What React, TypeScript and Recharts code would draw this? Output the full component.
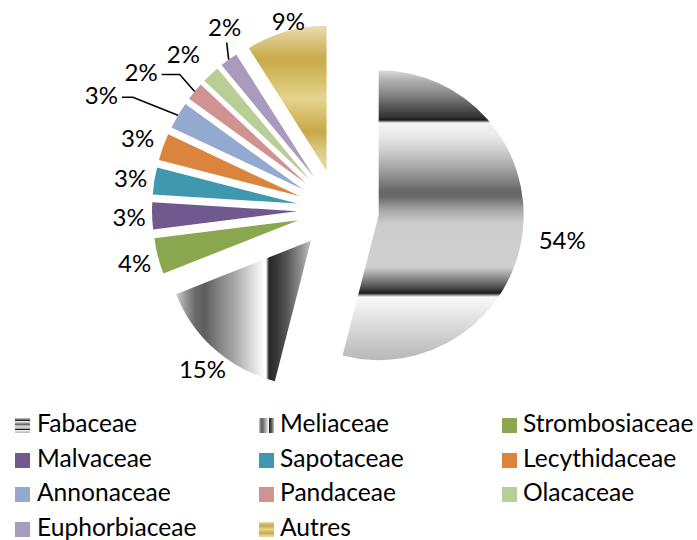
import React from 'react';
import { PieChart, Pie, Cell } from 'recharts';

// Share of stems per botanical family (percent)
const families = [
  'Fabaceae',
  'Meliaceae',
  'Strombosiaceae',
  'Malvaceae',
  'Sapotaceae',
  'Lecythidaceae',
  'Annonaceae',
  'Pandaceae',
  'Olacaceae',
  'Euphorbiaceae',
  'Autres',
];
const shares = [54, 15, 4, 3, 3, 3, 3, 2, 2, 2, 9];

const sliceFills = [
  'url(#fabaceaeFill)',
  'url(#meliaceaeFill)',
  '#8aa64f',
  '#71588f',
  '#4098af',
  '#db843d',
  '#93a9cf',
  '#d19392',
  '#b9cd96',
  '#a99bbd',
  'url(#autresFill)',
];

// Legend grid order (three columns)
const legendColumns = 3;

const WIDTH = 697;
const HEIGHT = 540;
const CENTER_X = 338;
const CENTER_Y = 210;
const RADIUS = 145;
const EXPLODE = 41;
const RAD = Math.PI / 180;
const FONT = 'Lato, "Liberation Sans", sans-serif';
const FONT_SIZE = 24;
const LEGEND_FONT_SIZE = 24.6;

// Distance of each percentage label beyond the arc, plus a small nudge
const labelGap = [40, 22, 24, 23, 24, 27, 0, 0, 34, 0, 10];
const labelNudge: [number, number][] = [
  [0, 1],
  [2, 2],
  [0, 0],
  [0, 0],
  [0, 0],
  [0, 0],
  [0, 0],
  [0, 0],
  [-4, 4],
  [0, 0],
  [5, -1],
];
// Leader lines, as successive segments starting on the arc
const leaders: Record<number, [number, number][]> = {
  6: [
    [-45, -18],
    [-11, 0],
  ],
  7: [
    [-15, -17],
    [-18, 0],
  ],
  9: [[-2, -17]],
};

const total = shares.reduce((a, b) => a + b, 0);
// Mid angle of each slice, clockwise from 12 o'clock
const midAngles = shares.map((v, i) => {
  const before = shares.slice(0, i).reduce((a, b) => a + b, 0);
  return ((before + v / 2) / total) * 360;
});

const data = families.map((name, i) => ({ name, value: shares[i] }));

const fabStops: [number, string][] = [
  [0, '#dcdcdc'],
  [0.035, '#b0b0b0'],
  [0.08, '#8a8a8a'],
  [0.128, '#555555'],
  [0.162, '#333333'],
  [0.172, '#1a1a1a'],
  [0.182, '#f5f5f5'],
  [0.231, '#e8e8e8'],
  [0.286, '#c8c8c8'],
  [0.345, '#a0a0a0'],
  [0.414, '#686868'],
  [0.438, '#6a6a6a'],
  [0.483, '#a8a8a8'],
  [0.528, '#cccccc'],
  [0.679, '#d0d0d0'],
  [0.714, '#909090'],
  [0.748, '#505050'],
  [0.769, '#1a1a1a'],
  [0.782, '#fafafa'],
  [0.838, '#e8e8e8'],
  [0.941, '#c8c8c8'],
  [1, '#b8b8b8'],
];

const meliStops: [number, string][] = [
  [0, '#d0d0d0'],
  [0.067, '#9a9a9a'],
  [0.141, '#6a6a6a'],
  [0.215, '#5e5e5e'],
  [0.311, '#808080'],
  [0.437, '#a8a8a8'],
  [0.556, '#d8d8d8'],
  [0.644, '#fafafa'],
  [0.667, '#ffffff'],
  [0.689, '#262626'],
  [0.733, '#333333'],
  [0.83, '#5a5a5a'],
  [0.926, '#909090'],
  [1, '#c0c0c0'],
];

const autresStops: [number, string][] = [
  [0, '#e8ddb4'],
  [0.116, '#d8c27a'],
  [0.226, '#c8ab4c'],
  [0.295, '#cdb257'],
  [0.39, '#d8c26e'],
  [0.5, '#e6d48e'],
  [0.616, '#d6be6a'],
  [0.733, '#c6a946'],
  [0.842, '#d8c47c'],
  [0.938, '#e4d596'],
  [1, '#e6d89a'],
];

const Gradient = ({
  id,
  stops,
  horizontal,
}: {
  id: string;
  stops: [number, string][];
  horizontal?: boolean;
}) => (
  <linearGradient id={id} x1="0" y1="0" x2={horizontal ? '1' : '0'} y2={horizontal ? '0' : '1'}>
    {stops.map(([o, c]) => (
      <stop key={o} offset={o} stopColor={c} />
    ))}
  </linearGradient>
);

const makeLabel = (k: number) => (props: any) => {
  if (props.index !== k) return null;
  const { cx, cy, midAngle, outerRadius } = props;
  const ux = Math.cos(-midAngle * RAD);
  const uy = Math.sin(-midAngle * RAD);
  const text = `${shares[k]}%`;
  const textProps = {
    fontFamily: FONT,
    fontSize: FONT_SIZE,
    fill: '#000',
    dominantBaseline: 'central' as const,
  };
  const leader = leaders[k];
  if (leader) {
    let x = cx + outerRadius * ux;
    let y = cy + outerRadius * uy;
    const pts: [number, number][] = [[x, y]];
    leader.forEach(([dx, dy]) => {
      x += dx;
      y += dy;
      pts.push([x, y]);
    });
    const last = leader[leader.length - 1];
    const horizontal = last[1] === 0;
    return (
      <g>
        <polyline
          points={pts.map((p) => p.join(',')).join(' ')}
          fill="none"
          stroke="#000"
          strokeWidth={1.6}
        />
        <text
          {...textProps}
          x={horizontal ? x - 4 : x - 2}
          y={horizontal ? y - 3 : y - 16}
          textAnchor={horizontal ? 'end' : 'middle'}
        >
          {text}
        </text>
      </g>
    );
  }
  const r = outerRadius + labelGap[k];
  return (
    <text
      {...textProps}
      x={cx + r * ux + labelNudge[k][0]}
      y={cy + r * uy + labelNudge[k][1]}
      textAnchor="middle"
    >
      {text}
    </text>
  );
};

const legendColX = [15, 259, 502];
const legendTextX = [37, 280, 523];
const legendRowTop = [408, 442.5, 477, 511.5];

const Legend = () => (
  <>
    {families.map((name, i) => {
      const col = i % legendColumns;
      const row = Math.floor(i / legendColumns);
      return (
        <div
          key={name}
          style={{
            position: 'absolute',
            left: legendColX[col],
            top: legendRowTop[row],
            height: 30,
            whiteSpace: 'nowrap',
          }}
        >
          <svg
            width={15}
            height={15}
            style={{ position: 'absolute', left: 0, top: 10 }}
          >
            <rect x={0} y={0} width={15} height={15} fill={sliceFills[i]} />
          </svg>
          <span
            style={{
              position: 'absolute',
              left: legendTextX[col] - legendColX[col],
              top: 0,
              lineHeight: '30px',
              fontFamily: FONT,
              fontSize: LEGEND_FONT_SIZE,
              color: '#000',
            }}
          >
            {name}
          </span>
        </div>
      );
    })}
  </>
);

export default function App() {
  return (
    <div
      style={{
        position: 'absolute',
        left: 0,
        top: 0,
        width: WIDTH,
        height: HEIGHT,
        background: '#fff',
        overflow: 'hidden',
      }}
    >
      <PieChart width={WIDTH} height={HEIGHT} margin={{ top: 0, right: 0, bottom: 0, left: 0 }}>
        <defs>
          <Gradient id="fabaceaeFill" stops={fabStops} />
          <Gradient id="meliaceaeFill" stops={meliStops} horizontal />
          <Gradient id="autresFill" stops={autresStops} />
        </defs>
        {families.map((name, k) => (
          <Pie
            key={name}
            data={data}
            dataKey="value"
            nameKey="name"
            cx={CENTER_X + EXPLODE * Math.sin(midAngles[k] * RAD)}
            cy={CENTER_Y - EXPLODE * Math.cos(midAngles[k] * RAD)}
            innerRadius={0}
            outerRadius={RADIUS}
            startAngle={90}
            endAngle={-270}
            stroke="none"
            label={makeLabel(k)}
            labelLine={false}
            isAnimationActive={false}
          >
            {data.map((d, i) => (
              <Cell
                key={d.name}
                fill={i === k ? sliceFills[i] : 'transparent'}
                stroke="none"
              />
            ))}
          </Pie>
        ))}
      </PieChart>
      <Legend />
    </div>
  );
}
